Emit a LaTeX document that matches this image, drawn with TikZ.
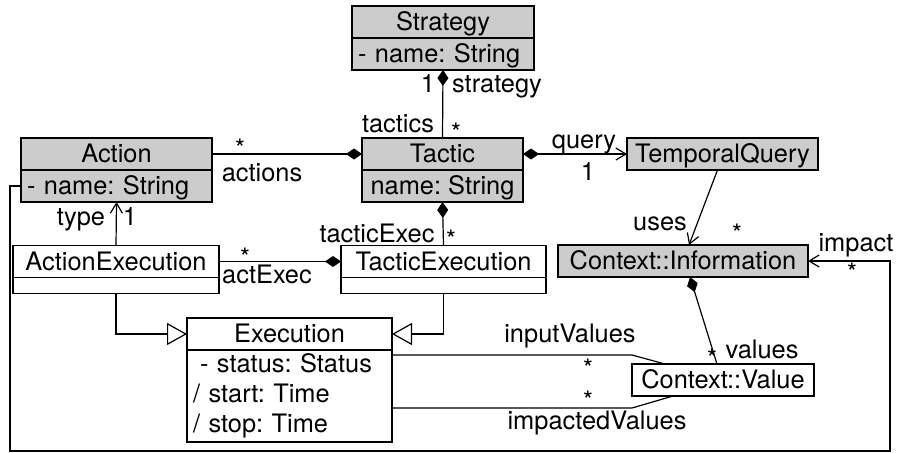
\documentclass[tikz,border=0pt]{standalone}
\usepackage{fontspec}
\setmainfont{TeX Gyre Heros}
\usepackage{tikz}
\usetikzlibrary{arrows.meta,positioning,calc}
\definecolor{umlgray}{HTML}{CCCCCC}
\frenchspacing
\newcommand{\umlfont}{\fontsize{12.7pt}{15pt}\selectfont}
\tikzstyle{umlbox} = [rectangle, draw, line width=0.6pt, inner sep=0pt, outer sep=0pt, font=\umlfont]
\tikzstyle{greybox} = [umlbox, fill=umlgray, minimum height=16pt, text height=11pt, text depth=2.5pt]
\tikzstyle{whitebox} = [greybox, fill=white]
\tikzstyle{attrbox} = [greybox, align=left, inner xsep=3pt]
\tikzstyle{lbl} = [inner sep=0pt, anchor=base, font=\umlfont]
\tikzset{udiamond/.tip={Diamond[length=8pt,width=5.5pt]},
  ubarb/.tip={Straight Barb[length=5pt,width=6pt]},
  utri/.tip={Triangle[open,length=10pt,width=11pt]}}

\begin{document}
\begin{tikzpicture}[x=0.5pt, y=-0.5pt, line width=0.6pt]
	\useasboundingbox (0,0) rectangle (899,452);

	% classes
	\node[greybox, minimum width=91pt] (strategy) at (443,22) {Strategy};
	\node[attrbox, text width=85pt, below=0pt of strategy] (strategyattr) {- name: String};

	\node[greybox, minimum width=80.5pt] (tactic) at (442.5,154) {Tactic};
	\node[greybox, minimum width=80.5pt, below=0pt of tactic] (tacticattr) {name: String};

	\node[greybox, minimum width=95.5pt] (action) at (116.5,154) {Action};
	\node[attrbox, text width=89.5pt, below=0pt of action] (actionattr) {- name: String};

	\node[greybox, minimum width=95.5pt] (tempquery) at (722.5,154) {TemporalQuery};
	\node[greybox, minimum width=125pt] (info) at (683,261) {Context::Information};
	\node[whitebox, minimum width=91pt] (value) at (723,380) {Context::Value};

	\node[whitebox, minimum width=103pt] (actexec) at (116,261.5) {ActionExecution};
	\node[umlbox, fill=white, minimum width=103pt, minimum height=8pt, below=0pt of actexec] (actexecbox) {};

	\node[whitebox, minimum width=102.5pt] (tacexec) at (443.5,261.5) {TacticExecution};
	\node[umlbox, fill=white, minimum width=102.5pt, minimum height=8pt, below=0pt of tacexec] (tacexecbox) {};

	\node[whitebox, minimum width=102.5pt] (execution) at (289.5,334) {Execution};
	\node[umlbox, fill=white, minimum height=46pt, text width=96.5pt, inner xsep=3pt, align=left,
		below=0pt of execution] (execattr) {\hspace*{3.5pt}- status: Status\\/ start: Time\\/ stop: Time};

	% associations
	\draw[udiamond-] (strategyattr.south) -- (tactic.north);
	\draw[-udiamond] (action.east) -- (tactic.west);
	\draw[udiamond-ubarb] (tactic.east) -- (tempquery.west);
	\draw[-ubarb] ([xshift=-2.5pt]tempquery.south) -- ([xshift=3pt]info.north);
	\draw[udiamond-] ([xshift=3.5pt]info.south) -- ([xshift=-3pt]value.north);
	\draw[udiamond-] (tacticattr.south) -- (tacexec.north);
	\draw[-ubarb] (actexec.north) -- (actionattr.south);
	\draw[-udiamond] (actexec.east) -- (tacexec.west);

	% generalizations
	\draw[-utri] (actexecbox.south) |- (execution.west);
	\draw[-utri] (tacexecbox.south) |- (execution.east);

	% values
	\coordinate (inA) at ([yshift=-2.5pt]execattr.north east);
	\coordinate (imA) at ([yshift=17pt]execattr.south east);
	\draw (inA) -- (inA -| value.west) -- ([xshift=-29pt]value.north);
	\draw (imA) -- (imA -| value.west) -- ([xshift=-25pt]value.south);

	% impact
	\coordinate (loopbl) at (10,451);
	\coordinate (loopbr) at (890,451);
	\draw[-ubarb] (actionattr.west) -| (loopbl) -- (loopbr) |- (info.east);

	% role names and multiplicities
	\node[lbl] (mstrat) at (428,92) {1};
	\node[lbl] (rstrat) at (497,92) {strategy};
	\node[lbl] (rtactics) at (398,132) {tactics};
	\node[lbl] (mtactics) at (456,141) {*};
	\node[lbl] (mactions) at (240,157) {*};
	\node[lbl] (ractions) at (262,181) {actions};
	\node[lbl] (rquery) at (584,148) {query};
	\node[lbl] (mquery) at (588,180) {1};
	\node[lbl] (ruses) at (660,230) {uses};
	\node[lbl] (muses) at (737,242) {*};
	\node[lbl] (rimpact) at (856,251) {impact};
	\node[lbl] (mimpact) at (852,281) {*};
	\node[lbl] (rvalues) at (762,358) {values};
	\node[lbl] (mvalues) at (712,367) {*};
	\node[lbl] (rinput) at (570,342) {inputValues};
	\node[lbl] (minput) at (588,377) {*};
	\node[lbl] (mimpacted) at (588,409) {*};
	\node[lbl] (rimpacted) at (597,429) {impactedValues};
	\node[lbl] (rtacexec) at (377,242) {tacticExec};
	\node[lbl] (mtacexec) at (451,248) {*};
	\node[lbl] (rtype) at (81,225) {type};
	\node[lbl] (mtype) at (130,225) {1};
	\node[lbl] (mactexec) at (245,266) {*};
	\node[lbl] (ractexec) at (267,283) {actExec};
\end{tikzpicture}
\end{document}
